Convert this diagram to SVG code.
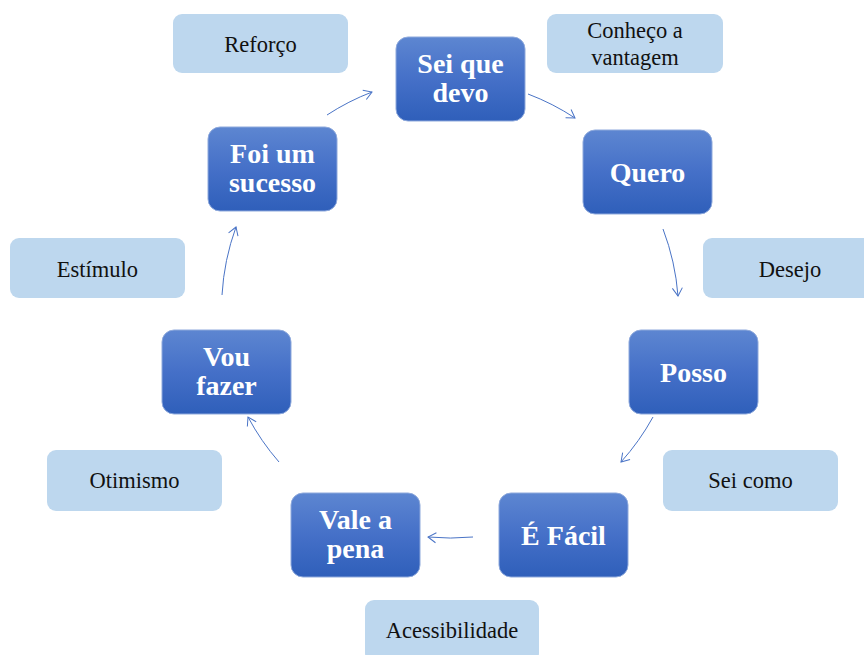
<svg xmlns="http://www.w3.org/2000/svg" width="864" height="655" viewBox="0 0 864 655">
  <defs>
    <linearGradient id="stepFill" x1="0" y1="0" x2="0" y2="1">
      <stop offset="0" stop-color="#5d86d1"/>
      <stop offset="0.5" stop-color="#4570c8"/>
      <stop offset="1" stop-color="#2f5fba"/>
    </linearGradient>
    <marker id="arrow" markerUnits="userSpaceOnUse" markerWidth="14" markerHeight="14" viewBox="-10 -7 12 14" refX="0" refY="0" orient="auto">
      <path d="M-8,-5 L0,0 L-8,5" fill="none" stroke="#4a74c6" stroke-width="1"/>
    </marker>
  </defs>
  <style>
    .note rect { fill: #bdd7ee; }
    .note text { font-size: 22.5px; fill: #111111; text-anchor: middle; }
    .step rect { fill: url(#stepFill); stroke: #8ea9dc; stroke-width: 1; }
    .step text { font-weight: bold; font-size: 28px; fill: #ffffff; text-anchor: middle; }
    .links path { fill: none; stroke: #4a74c6; stroke-width: 1; marker-end: url(#arrow); }
  </style>

  <rect width="864" height="655" fill="#ffffff"/>

  <!-- side notes: light boxes with plain serif text -->
  <g id="note-reforco" class="note">
    <rect x="173" y="14" width="175" height="59" rx="9"/>
    <text x="260.5" y="52" font-family="Times New Roman, Liberation Serif, serif">Reforço</text>
  </g>
  <g id="note-conheco" class="note">
    <rect x="547" y="14" width="176" height="59" rx="9"/>
    <text x="635" y="38" font-family="Times New Roman, Liberation Serif, serif">Conheço a</text>
    <text x="635" y="65" font-family="Times New Roman, Liberation Serif, serif">vantagem</text>
  </g>
  <g id="note-desejo" class="note">
    <rect x="703" y="238" width="175" height="60" rx="9"/>
    <text x="790" y="277" font-family="Times New Roman, Liberation Serif, serif">Desejo</text>
  </g>
  <g id="note-estimulo" class="note">
    <rect x="10" y="238" width="175" height="60" rx="9"/>
    <text x="97.5" y="277" font-family="Times New Roman, Liberation Serif, serif">Estímulo</text>
  </g>
  <g id="note-sei-como" class="note">
    <rect x="663" y="450" width="175" height="61" rx="9"/>
    <text x="750.5" y="488" font-family="Times New Roman, Liberation Serif, serif">Sei como</text>
  </g>
  <g id="note-otimismo" class="note">
    <rect x="47" y="450" width="175" height="61" rx="9"/>
    <text x="134.5" y="488" font-family="Times New Roman, Liberation Serif, serif">Otimismo</text>
  </g>
  <g id="note-acessibilidade" class="note">
    <rect x="365" y="600" width="174" height="62" rx="9"/>
    <text x="452" y="638" font-family="Times New Roman, Liberation Serif, serif">Acessibilidade</text>
  </g>

  <!-- cycle steps: gradient boxes with bold white text -->
  <g id="step-sei-que-devo" class="step">
    <rect x="396" y="37" width="129" height="84" rx="12"/>
    <text x="460.5" y="73" font-family="Times New Roman, Liberation Serif, serif">Sei que</text>
    <text x="460.5" y="102" font-family="Times New Roman, Liberation Serif, serif">devo</text>
  </g>
  <g id="step-quero" class="step">
    <rect x="583" y="130" width="129" height="84" rx="12"/>
    <text x="647.5" y="182" font-family="Times New Roman, Liberation Serif, serif">Quero</text>
  </g>
  <g id="step-posso" class="step">
    <rect x="629" y="330" width="129" height="84" rx="12"/>
    <text x="693.5" y="382" font-family="Times New Roman, Liberation Serif, serif">Posso</text>
  </g>
  <g id="step-e-facil" class="step">
    <rect x="499" y="493" width="129" height="84" rx="12"/>
    <text x="563.5" y="545" font-family="Times New Roman, Liberation Serif, serif">É Fácil</text>
  </g>
  <g id="step-vale-a-pena" class="step">
    <rect x="291" y="493" width="129" height="84" rx="12"/>
    <text x="355.5" y="529" font-family="Times New Roman, Liberation Serif, serif">Vale a</text>
    <text x="355.5" y="558" font-family="Times New Roman, Liberation Serif, serif">pena</text>
  </g>
  <g id="step-vou-fazer" class="step">
    <rect x="162" y="330" width="129" height="84" rx="12"/>
    <text x="226.5" y="366" font-family="Times New Roman, Liberation Serif, serif">Vou</text>
    <text x="226.5" y="395" font-family="Times New Roman, Liberation Serif, serif">fazer</text>
  </g>
  <g id="step-foi-um-sucesso" class="step">
    <rect x="208" y="127" width="129" height="84" rx="12"/>
    <text x="272.5" y="163" font-family="Times New Roman, Liberation Serif, serif">Foi um</text>
    <text x="272.5" y="192" font-family="Times New Roman, Liberation Serif, serif">sucesso</text>
  </g>

  <!-- clockwise arcs between steps -->
  <g id="connectors" class="links">
    <path d="M528,94 A240,240 0 0 1 575,118"/>
    <path d="M663,229 A240,240 0 0 1 678,296"/>
    <path d="M653,417 A240,240 0 0 1 621,462"/>
    <path d="M473,537 A240,240 0 0 1 428,537"/>
    <path d="M279,462 A240,240 0 0 1 248,417"/>
    <path d="M222,295 A240,240 0 0 1 236,227"/>
    <path d="M327,115 A240,240 0 0 1 372,92"/>
  </g>
</svg>
